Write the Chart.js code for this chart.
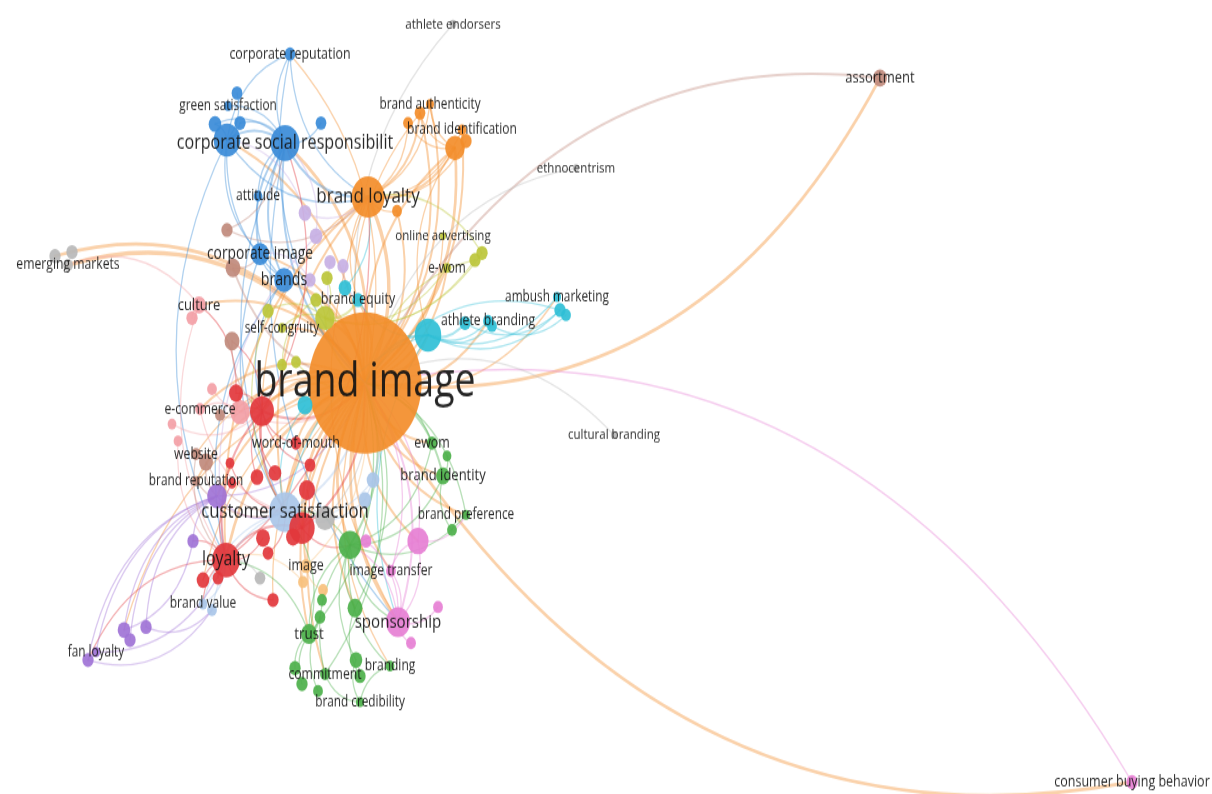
<!DOCTYPE html>
<html>
<head>
<meta charset="utf-8">
<script src="https://cdn.jsdelivr.net/npm/chart.js@4.4.1/dist/chart.umd.min.js"></script>
<style>
  html, body { margin: 0; padding: 0; background: #fff; overflow: hidden; }
</style>
</head>
<body>
<!-- the map in the picture is stretched vertically, so the canvas is drawn short and stretched by css -->
<canvas id="net" width="1212" height="635" style="display:block;width:1212px;height:794px"></canvas>
<script>
// keyword nodes (map coordinates, weight ~ occurrences)
const nodeLabels = [
  'brand image', 'corporate social responsibilit', '', 'green satisfaction', '', '', '', '', 'corporate reputation', 'attitude',
  'corporate image', 'brands', 'brand loyalty', 'brand authenticity', '', '', 'brand identification', '', '', '',
  'online advertising', 'e-wom', '', '', 'brand equity', '', '', '', '', 'self-congruity',
  '', '', '', 'athlete branding', '', '', '', 'ambush marketing', '', '',
  '', 'emerging markets', '', '', 'culture', '', '', '', '', 'e-commerce',
  '', '', '', '', '', 'word-of-mouth', '', '', 'website', '',
  'brand reputation', '', 'customer satisfaction', '', 'loyalty', 'fan loyalty', '', '', '', '',
  '', 'brand value', '', 'image', '', '', '', 'ewom', 'brand identity', '',
  'brand preference', '', 'image transfer', '', '', '', 'sponsorship', '', '', 'trust',
  '', '', '', 'commitment', '', '', '', '', '', 'branding',
  'brand credibility', 'athlete endorsers', 'ethnocentrism', 'cultural branding', 'assortment', 'consumer buying behavior', '', '', '', '',
  '', '', '', '', '', '', '', '', '', '',
  '', '', '', '', '', ''
];
const nodeX = [
  365, 285, 227, 228, 215, 240, 237, 321, 290, 258,
  260, 284, 368, 430, 420, 408, 462, 455, 466, 397,
  443, 447, 475, 482, 358, 325, 316, 327, 345, 282,
  268, 282, 296, 488, 428, 465, 492, 557, 560, 566,
  305, 68, 55, 72, 199, 192, 233, 227, 232, 200,
  240, 212, 172, 178, 220, 296, 262, 236, 196, 206,
  196, 217, 285, 302, 226, 96, 88, 124, 130, 146,
  193, 203, 212, 306, 303, 323, 260, 432, 443, 447,
  466, 452, 391, 350, 418, 366, 398, 438, 411, 309,
  320, 355, 322, 325, 295, 302, 318, 356, 360, 390,
  360, 453, 576, 614, 880, 1132, 305, 316, 330, 343,
  310, 230, 257, 275, 310, 307, 263, 293, 268, 203,
  218, 273, 232, 373, 365, 325
];
const nodeY = [
  383, 143, 140, 106, 124, 123, 93, 123, 54, 196,
  254, 280, 197, 104, 113, 123, 130, 148, 141, 211,
  236, 268, 260, 253, 300, 318, 300, 278, 288, 328,
  311, 365, 362, 321, 335, 323, 326, 297, 310, 315,
  405, 265, 256, 252, 305, 318, 268, 230, 341, 409,
  412, 389, 424, 441, 415, 443, 411, 393, 454, 462,
  481, 496, 512, 528, 560, 652, 660, 630, 640, 627,
  541, 604, 610, 566, 582, 590, 578, 443, 476, 456,
  515, 530, 571, 545, 541, 541, 622, 607, 643, 634,
  617, 608, 600, 674, 668, 684, 691, 660, 676, 666,
  702, 24, 168, 435, 78, 782, 213, 236, 262, 266,
  280, 463, 477, 473, 465, 490, 538, 537, 553, 580,
  578, 600, 483, 480, 500, 518
];
const nodeWeight = [
  200, 13, 11, 1, 2.5, 2, 1.8, 1.8, 1.8, 1.2,
  5, 6, 17, 1, 1.8, 1.5, 1.2, 6, 2, 1.5,
  0.6, 1, 2, 2, 2, 6, 2, 2, 2.5, 1,
  2, 1.5, 1.5, 1.5, 11, 2, 1.5, 1, 2, 1.5,
  3.5, 1.5, 2, 2, 3, 2, 3.5, 2, 3.5, 1.5,
  6, 1.5, 1.2, 1.2, 1.5, 1.8, 9, 3, 1.5, 3,
  1, 6, 16, 10, 12, 1, 2, 2.5, 2, 2,
  2, 1.2, 1.5, 2, 1.5, 1.5, 1.8, 1.8, 3, 1.2,
  1, 1.5, 1.5, 8, 7, 1.8, 9, 1.5, 1.5, 4,
  1.8, 3.5, 1.5, 1.5, 2, 2, 1.5, 2.5, 2, 1.2,
  1, 0.7, 0.6, 0.6, 3, 2, 2.5, 2.5, 2, 2,
  2, 1.2, 2.5, 2.5, 1.8, 4, 3, 3, 1.8, 2.5,
  1.8, 2, 1.2, 2.5, 2.5, 6
];
// cluster: 0 red, 1 green, 2 blue, 3 olive, 4 purple, 5 cyan, 6 orange, 7 brown,
// 8 pink, 9 light red, 10 light blue, 11 light orange, 12 grey, 13 lilac
const nodeCluster = [
  6, 2, 2, 2, 2, 2, 2, 2, 2, 2,
  2, 2, 6, 6, 6, 6, 6, 6, 6, 6,
  3, 3, 3, 3, 5, 3, 3, 3, 5, 3,
  3, 3, 3, 5, 5, 5, 5, 5, 5, 5,
  5, 12, 12, 12, 9, 9, 7, 7, 7, 9,
  9, 9, 9, 9, 7, 0, 0, 0, 7, 7,
  7, 4, 10, 0, 0, 4, 4, 4, 4, 4,
  4, 10, 10, 11, 11, 11, 12, 1, 1, 1,
  1, 1, 8, 1, 8, 8, 8, 8, 8, 1,
  1, 1, 1, 1, 1, 1, 1, 1, 1, 1,
  1, 12, 12, 12, 7, 8, 13, 13, 13, 13,
  13, 0, 0, 0, 0, 0, 0, 0, 0, 0,
  0, 0, 0, 10, 10, 12
];

// co-occurrence links: [from, to, strength]
const links = [
  [0,1,3],[0,2,2],[0,8,1],[0,10,2],[0,11,3],[0,12,4],[0,13,2],[0,14,2],[0,16,2],[0,17,3],
  [0,19,2],[0,20,1],[0,21,2],[0,24,3],[0,25,3],[0,29,2],[0,33,2],[0,34,3],[0,37,1],[0,41,4],
  [0,42,3],[0,44,2],[0,49,2],[0,50,2],[0,55,2],[0,56,3],[0,58,1],[0,60,2],[0,61,2],[0,62,4],
  [0,63,3],[0,64,3],[0,73,2],[0,77,2],[0,78,2],[0,80,2],[0,82,2],[0,83,3],[0,84,2],[0,86,3],
  [0,89,2],[0,91,2],[0,93,2],[0,99,1],[0,104,3],[0,105,3],[0,119,1],[0,121,1],[0,67,1],
  [104,0,2],[105,0,1],[101,0,1],[102,0,1],[103,0,1],
  [56,0,2],[83,0,2],[89,0,1],[86,0,2],[1,0,2],[34,0,2],[25,0,2],[61,0,1],[62,0,2],
  [1,2,2],[1,3,1],[1,4,1],[1,5,1],[1,7,1],[1,9,1],[1,10,2],[1,11,2],[1,12,2],[1,62,1],
  [2,4,1],[2,5,1],[2,6,1],[2,10,1],[2,11,1],[2,12,1],[8,1,1],[8,2,1],[8,12,1],[8,0,1],
  [9,11,1],[10,11,1],[10,62,1],[11,56,1],[11,64,1],[2,64,1],[1,86,1],
  [12,13,1],[12,14,2],[12,15,1],[12,16,1],[12,17,2],[12,18,1],[12,19,1],[14,17,1],[15,17,1],[13,17,1],
  [12,62,2],[12,64,2],[12,56,1],[17,34,1],[12,86,1],[12,24,1],[17,0,2],[14,0,1],
  [34,33,1],[34,35,2],[34,36,1],[34,37,1],[34,38,1],[35,38,1],[36,39,1],[38,0,1],[34,86,1],[34,62,1],
  [28,12,1],[24,34,1],[40,62,1],
  [25,21,1],[25,22,1],[25,23,1],[25,24,2],[25,26,1],[25,27,1],[25,29,1],[25,30,1],[26,31,1],[22,0,1],
  [23,12,1],[30,62,1],[32,0,1],
  [106,12,1],[107,1,1],[108,0,1],[109,24,1],[110,10,1],[106,2,1],[107,64,1],
  [56,55,1],[56,57,1],[56,50,1],[56,63,2],[56,64,2],[63,62,2],[63,64,2],[64,119,1],[64,120,1],[64,121,1],
  [64,116,1],[63,117,1],[63,115,1],[56,112,1],[56,113,1],[56,114,1],[57,44,1],[50,49,1],[64,70,1],[64,71,1],
  [63,83,1],[56,48,1],[64,66,1],[111,62,1],[122,64,1],[118,62,1],[56,1,1],[64,12,1],[63,0,2],
  [44,45,1],[44,41,1],[50,0,1],[51,56,1],[52,56,1],[53,64,1],[44,64,1],[49,62,1],
  [61,65,1],[61,66,1],[61,67,1],[61,68,1],[61,69,1],[61,70,1],[67,70,1],[69,72,1],[65,64,1],[61,62,1],[66,72,1],
  [46,10,1],[46,0,2],[47,1,1],[48,56,1],[59,61,1],[59,62,1],[54,50,1],[58,64,1],[60,62,1],[47,12,1],
  [83,77,1],[83,78,1],[83,80,1],[83,89,1],[83,91,1],[83,93,1],[83,97,1],[83,99,1],[89,94,1],[89,95,1],
  [89,90,1],[91,98,1],[93,100,1],[78,79,1],[78,81,1],[80,81,1],[97,100,1],[90,96,1],[99,100,1],[83,62,1],
  [89,64,1],[78,0,2],[77,0,1],[93,0,1],[80,0,1],[91,0,1],[89,62,1],[83,86,1],
  [86,84,1],[86,85,1],[86,82,1],[86,87,1],[86,88,1],[84,82,1],[84,0,1],[86,83,1],[84,80,1],[82,0,1],
  [73,74,1],[73,75,1],[73,0,1],[74,64,1],
  [62,71,1],[62,72,1],[62,123,1],[62,124,1],[123,0,1],[124,0,1],[71,64,1],
  [125,0,1],[125,62,1],[76,64,1]
];

const clusterColors = [
  '#e2373c', '#4cb04a', '#3a8bd8', '#bcc63a', '#9f73d6', '#2fbfd6', '#f38d2a',
  '#c08a7c', '#e67fd4', '#f3a0a6', '#a9c5e8', '#f7c07c', '#b8b8b8', '#c7b0e4'
];

function rgba(hex, a) {
  const n = parseInt(hex.slice(1), 16);
  return `rgba(${n >> 16},${(n >> 8) & 255},${n & 255},${a})`;
}

function pos(chart, i) {
  return [chart.scales.x.getPixelForValue(nodeX[i]), chart.scales.y.getPixelForValue(nodeY[i])];
}

// curved links under the bubbles
const linkPlugin = {
  id: 'links',
  beforeDatasetsDraw(chart) {
    const ctx = chart.ctx;
    ctx.save();
    ctx.lineCap = 'round';
    links.forEach(([a, b, s]) => {
      const [x1, y1] = pos(chart, a);
      const [x2, y2] = pos(chart, b);
      const dx = x2 - x1, dy = y2 - y1;
      const cx = (x1 + x2) / 2 - dy * 0.3;
      const cy = (y1 + y2) / 2 + dx * 0.3;
      ctx.strokeStyle = rgba(clusterColors[nodeCluster[a]], 0.4);
      ctx.lineWidth = 0.6 + 0.7 * s;
      ctx.beginPath();
      ctx.moveTo(x1, y1);
      ctx.quadraticCurveTo(cx, cy, x2, y2);
      ctx.stroke();
    });
    ctx.restore();
  }
};

// keyword labels on top
const labelPlugin = {
  id: 'labels',
  afterDatasetsDraw(chart) {
    const ctx = chart.ctx;
    ctx.save();
    ctx.textAlign = 'center';
    ctx.textBaseline = 'middle';
    ctx.fillStyle = 'rgba(20,20,20,0.92)';
    nodeLabels.forEach((txt, i) => {
      if (!txt) return;
      const w = nodeWeight[i];
      const fs = 10.3 + 1.5 * Math.sqrt(w) + 0.03 * w;
      const [x, y] = pos(chart, i);
      ctx.font = `500 ${fs.toFixed(1)}px "Open Sans"`;
      ctx.fillText(txt, x, y);
    });
    ctx.restore();
  }
};

const ctx = document.getElementById('net').getContext('2d');

const chart = new Chart(ctx, {
  type: 'bubble',
  data: {
    datasets: [{
      data: nodeX.map((x, i) => ({ x: x, y: nodeY[i], r: 4 * Math.sqrt(nodeWeight[i]) })),
      backgroundColor: nodeCluster.map(c => rgba(clusterColors[c], 0.92)),
      borderWidth: 0,
      hoverRadius: 0,
      clip: false
    }]
  },
  options: {
    responsive: false,
    animation: false,
    devicePixelRatio: 1,
    events: [],
    layout: { padding: 0, autoPadding: false },
    plugins: {
      legend: { display: false },
      tooltip: { enabled: false }
    },
    scales: {
      x: { type: 'linear', min: 0, max: 1212, display: false },
      y: { type: 'linear', min: 0, max: 794, reverse: true, display: false }
    }
  },
  plugins: [linkPlugin, labelPlugin]
});
</script>
</body>
</html>
